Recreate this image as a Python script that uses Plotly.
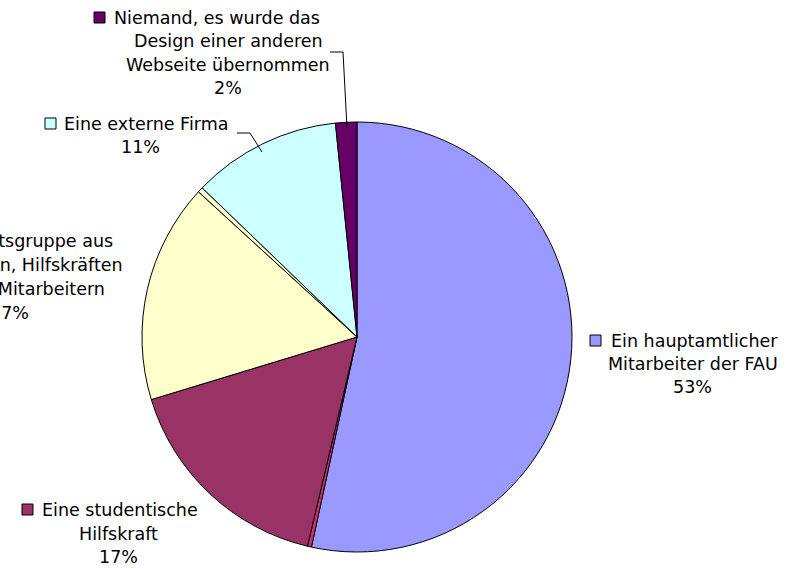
import plotly.graph_objects as go

W, H = 798, 569

# Data (clockwise from 12 o'clock)
categories = [
    "Ein hauptamtlicher Mitarbeiter der FAU",
    "Sonstige",
    "Eine studentische Hilfskraft",
    "Eine Arbeitsgruppe aus Studenten, Hilfskräften und Mitarbeitern",
    "Keine Angabe",
    "Eine externe Firma",
    "Niemand, es wurde das Design einer anderen Webseite übernommen",
]
values = [53.4, 0.3, 16.6, 16.5, 0.4, 11.2, 1.6]
colors = ["#9999FF", "#CC3366", "#993366", "#FFFFCC", "#FFFFCC", "#CCFFFF", "#660066"]

total = sum(values)
pct = [f"{int(v / total * 100 + 0.5)}%" for v in values]

def px(x):
    return x / W

def py(y):
    return 1 - y / H

cx, cy, r = 357, 337, 215

fig = go.Figure()
fig.add_trace(go.Pie(
    labels=categories,
    values=values,
    sort=False,
    direction="clockwise",
    rotation=0,
    textinfo="none",
    hoverinfo="label+percent",
    marker=dict(colors=colors, line=dict(color="#000000", width=1)),
    domain=dict(x=[px(cx - r), px(cx + r)], y=[py(cy + r), py(cy - r)]),
    showlegend=False,
))

FONT = dict(family="DejaVu Sans, Arial, sans-serif", size=17.5, color="#000000")

# label layout: (slice index, square x, square y, [(text, x, anchor, y_center), ...])
label_layout = [
    (0, 590, 335, [("Ein hauptamtlicher", 609, "left", 341),
                   ("Mitarbeiter der FAU", 693, "center", 364), (pct[0], 692, "center", 387)]),
    (2, 22, 504, [("Eine studentische", 40, "left", 510), ("Hilfskraft", 118, "center", 534),
                  (pct[2], 118, "center", 557)]),
    (3, None, None, [("Eine Arbeitsgruppe aus", 115, "right", 241),
                     ("Studenten, Hilfskräften", 125, "right", 265),
                     ("und Mitarbeitern", 107, "right", 289), (pct[3], 31, "right", 313)]),
    (5, 45, 118, [("Eine externe Firma", 62, "left", 124), (pct[5], 140, "center", 147)]),
    (6, 94, 12, [("Niemand, es wurde das", 112, "left", 18), ("Design einer anderen", 228, "center", 41),
                 ("Webseite übernommen", 228, "center", 65), (pct[6], 228, "center", 88)]),
]

shapes = []
annotations = []
for idx, sx, sy, lines in label_layout:
    if sx is not None:
        shapes.append(dict(type="rect", xref="paper", yref="paper",
                           x0=px(sx), x1=px(sx + 11), y0=py(sy + 11), y1=py(sy),
                           fillcolor=colors[idx], line=dict(color="#000000", width=1)))
    for text, tx, anchor, ty in lines:
        annotations.append(dict(text=text, x=px(tx), y=py(ty), xref="paper", yref="paper",
                                xanchor=anchor, yanchor="middle", showarrow=False,
                                font=FONT))

# leader lines
leaders = [
    [(237, 133), (250, 133), (262, 152)],
    [(330, 52), (343, 52), (347, 128)],
]
for pts in leaders:
    path = "M " + " L ".join(f"{px(x)},{py(y)}" for x, y in pts)
    shapes.append(dict(type="path", xref="paper", yref="paper", path=path,
                       line=dict(color="#000000", width=1)))

fig.update_layout(
    width=W, height=H,
    margin=dict(l=0, r=0, t=0, b=0),
    paper_bgcolor="#FFFFFF",
    plot_bgcolor="#FFFFFF",
    shapes=shapes,
    annotations=annotations,
)

fig.write_html("out.html", config={"displayModeBar": False},
               post_script="document.body.style.margin='0';document.body.style.overflow='hidden';")
